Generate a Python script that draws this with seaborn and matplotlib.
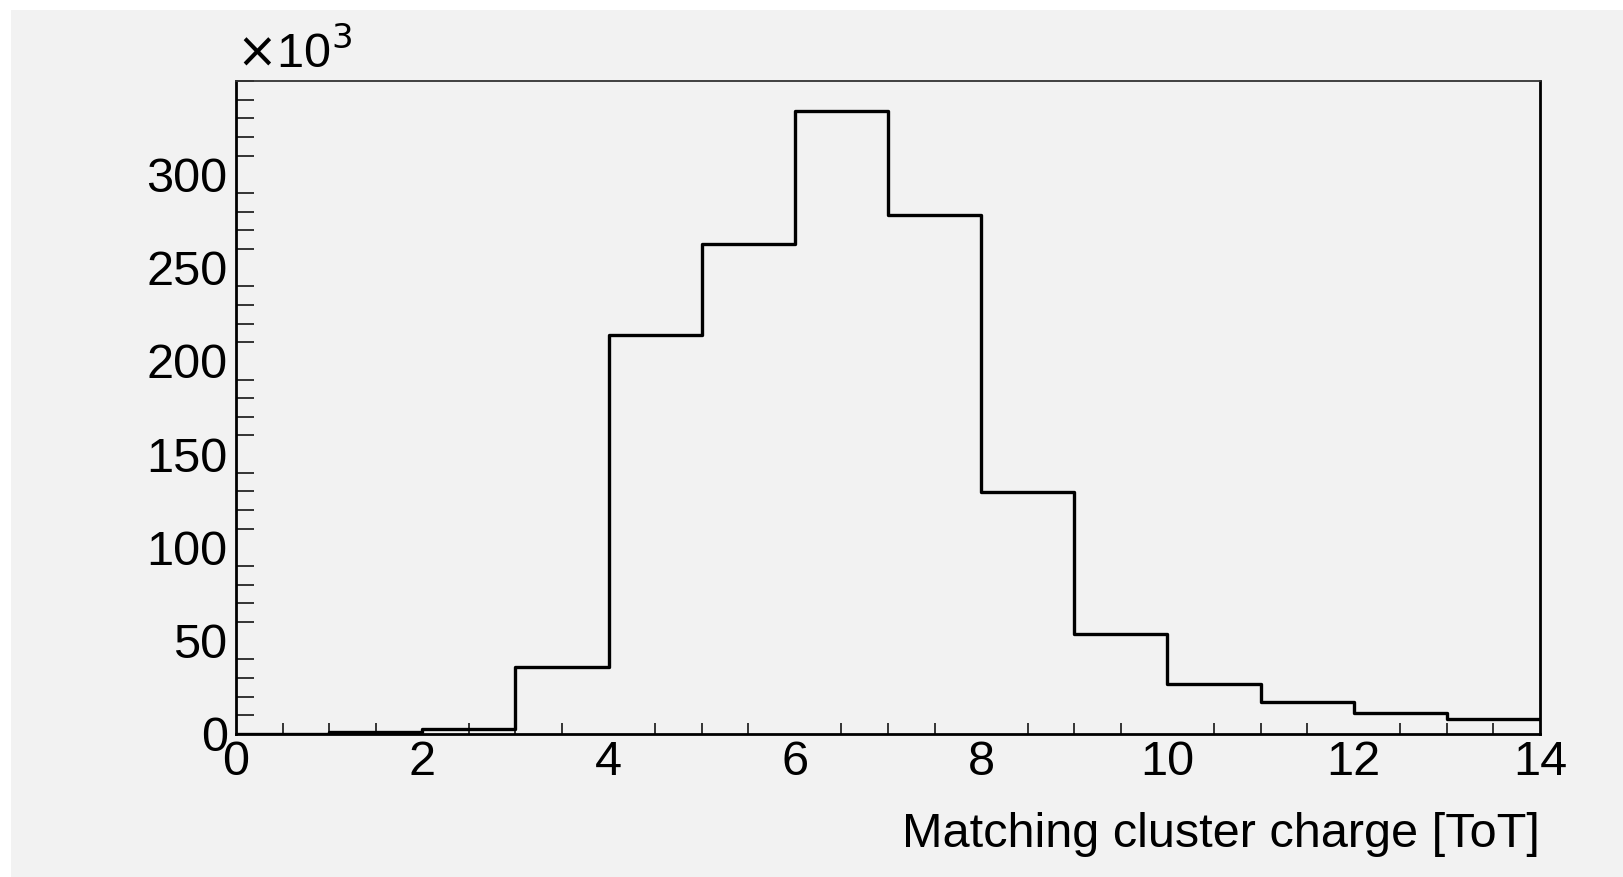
import matplotlib
matplotlib.use("Agg")
import matplotlib.pyplot as plt
import seaborn as sns
import numpy as np
import pandas as pd
from matplotlib.patches import Rectangle
from matplotlib.ticker import MultipleLocator

# bin edges (ToT) and counts per bin, in thousands
bin_edges = list(range(0, 15))
bin_centers = [0.5, 1.5, 2.5, 3.5, 4.5, 5.5, 6.5, 7.5, 8.5, 9.5, 10.5, 11.5, 12.5, 13.5]
counts_k = [0.0, 1.0, 2.7, 36.0, 213.6, 262.9, 333.7, 278.4, 129.5, 53.7, 27.0, 17.3, 11.0, 8.0]
x_ticks = [0, 2, 4, 6, 8, 10, 12, 14]
y_ticks = [0, 50, 100, 150, 200, 250, 300]

sns.set_theme(style="white")
plt.rcParams["font.family"] = ["Liberation Sans", "DejaVu Sans"]
plt.rcParams["text.color"] = "black"
plt.rcParams["axes.labelcolor"] = "black"

bg = "#f2f2f2"
fig = plt.figure(figsize=(16.24, 8.77), dpi=100, facecolor="white")
# ROOT-style grey canvas with a thin white margin on top/left
fig.patches.append(Rectangle((11 / 1624, 0), 1 - 11 / 1624, 1 - 10 / 877,
                             transform=fig.transFigure, facecolor=bg,
                             edgecolor="none", zorder=-10))
ax = fig.add_axes([0.1453, 0.1631, 0.8030, 0.7445])
ax.set_facecolor(bg)

df = pd.DataFrame({"charge": bin_centers, "count": counts_k})
sns.histplot(data=df, x="charge", weights="count", bins=bin_edges,
             element="step", fill=False, color="black", linewidth=2.4, ax=ax)

ax.set_xlim(0, 14)
ax.set_ylim(0, 350)
ax.set_xticks(x_ticks)
ax.set_yticks(y_ticks)
ax.xaxis.set_minor_locator(MultipleLocator(0.5))
ax.yaxis.set_minor_locator(MultipleLocator(10))
ax.tick_params(axis="x", which="major", direction="in", length=15, width=1.3,
               labelsize=35, pad=4, colors="black")
ax.tick_params(axis="x", which="minor", direction="in", length=8, width=1.3,
               bottom=True)
ax.tick_params(axis="y", which="major", direction="in", length=26, width=1.3,
               labelsize=35, pad=6, colors="black")
ax.tick_params(axis="y", which="minor", direction="in", length=13, width=1.3,
               left=True)

for side in ["left", "bottom", "right"]:
    ax.spines[side].set_linewidth(2.0)
    ax.spines[side].set_color("black")
ax.spines["top"].set_linewidth(1.3)
ax.spines["top"].set_color("#333333")

ax.set_ylabel("")
ax.set_xlabel("Matching cluster charge [ToT]", fontsize=35, loc="right",
              labelpad=20, color="black")
ax.text(0.0, 1.005, r"$\times$10$^{3}$", transform=ax.transAxes, fontsize=35,
        ha="left", va="bottom", color="black")

fig.savefig("out.png", dpi=100, facecolor="white")
